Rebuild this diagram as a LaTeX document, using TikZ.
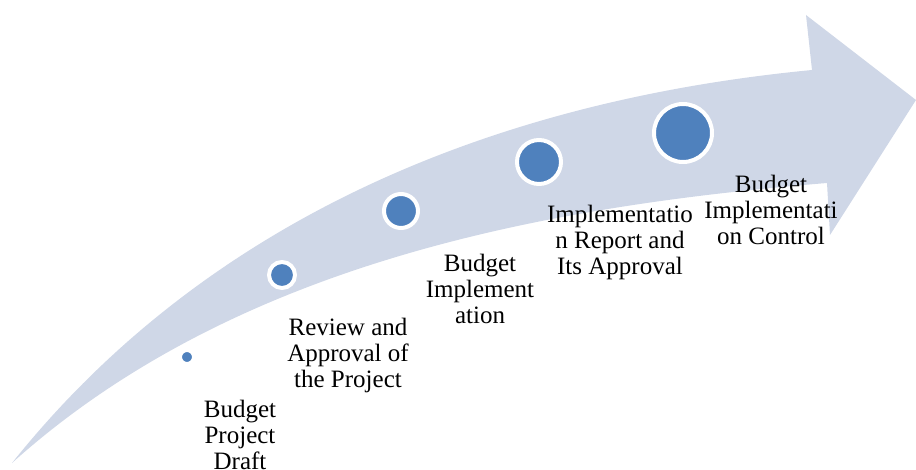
\documentclass[tikz,border=0pt]{standalone}
\usepackage{fontspec}
\setmainfont{Liberation Serif}
\definecolor{band}{HTML}{CFD7E7}
\definecolor{dot}{HTML}{4F81BD}
\begin{document}
\begin{tikzpicture}[x=1pt,y=-1pt,
  stepdot/.style={circle,fill=dot,draw=white,inner sep=0pt},
  steptext/.style={align=center,font=\fontsize{25}{26}\selectfont,inner sep=0pt,anchor=north}]
\useasboundingbox (0,0) rectangle (916,470);
\clip (0,0) rectangle (916,470);
\fill[band] (12,463) .. controls (210,215) and (500,100) .. (812,70)
  -- (806,15) -- (916,100) -- (830,235) -- (827,183)
  .. controls (560,205) and (240,258) .. (12,463) -- cycle;
\node[stepdot,minimum size=12pt,line width=2pt] (c1) at (187,357) {};
\node[stepdot,minimum size=26pt,line width=4pt] (c2) at (282,275) {};
\node[stepdot,minimum size=34pt,line width=4pt] (c3) at (401,211) {};
\node[stepdot,minimum size=44pt,line width=4pt] (c4) at (539,162) {};
\node[stepdot,minimum size=58pt,line width=4pt] (c5) at (683,133) {};
\node[steptext] (t1) at (240,400) {Budget\\Project\\Draft};
\node[steptext] (t2) at (348,318) {Review and\\Approval of\\the Project};
\node[steptext] (t3) at (480,254) {Budget\\Implement\\ation};
\node[steptext] (t4) at (620,205) {Implementatio\\n Report and\\Its Approval};
\node[steptext] (t5) at (771,175) {Budget\\Implementati\\on Control};
\end{tikzpicture}
\end{document}
